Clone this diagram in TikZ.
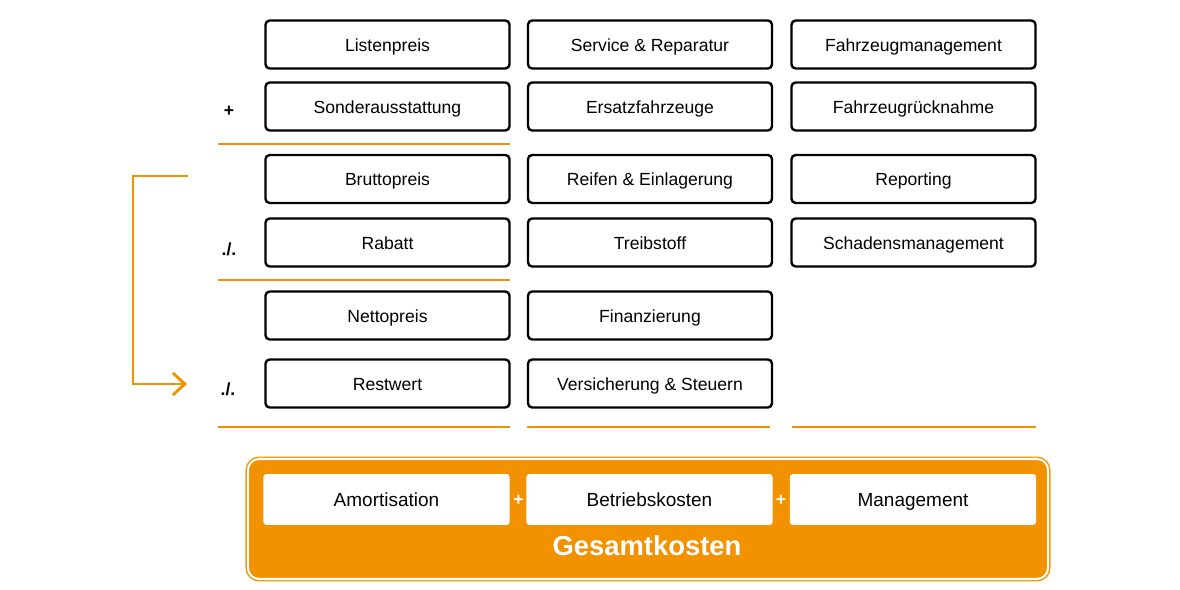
\documentclass[tikz,border=0pt]{standalone}
\usepackage{fontspec}
\setmainfont{Liberation Sans}
\usepackage{tikz}
\usetikzlibrary{arrows.meta,positioning,calc}
\definecolor{gkorange}{RGB}{243,146,0}
\tikzset{
  item/.style={draw, line width=1.7pt, rounded corners=3pt, align=center, minimum width=6.1cm, minimum height=1.2cm, text height=2.2ex, text depth=.4ex, font=\fontsize{12.5}{14}\selectfont},
  part/.style={fill=white, rounded corners=2pt, align=center, minimum width=6.15cm, minimum height=1.27cm, text height=2.2ex, text depth=.4ex, font=\fontsize{13.5}{16}\selectfont},
  total/.style={draw=gkorange, fill=gkorange, double=white, double distance=1.5pt, line width=1pt, rounded corners=8pt, minimum width=20cm, minimum height=3.0cm},
  op/.style={font=\bfseries\fontsize{12.5}{14}\selectfont},
  sum/.style={gkorange, line width=2pt},
  carry/.style={-{Straight Barb[length=3mm,width=5.5mm]}, gkorange, line width=2pt}
}
\begin{document}
\begin{tikzpicture}[x=0.025cm,y=-0.025cm]
    \useasboundingbox (0,0) rectangle (1180,590);
    % Amortisation
    \node[item] (listen) at (387.5,44.5) {Listenpreis};
    \node[item] (sonder) at (387.5,106.5) {Sonderausstattung};
    \node[item] (brutto) at (387.5,179) {Bruttopreis};
    \node[item] (rabatt) at (387.5,242.5) {Rabatt};
    \node[item] (netto) at (387.5,315.5) {Nettopreis};
    \node[item] (rest) at (387.5,383.5) {Restwert};
    \node[op] (plus1) at (229,111) {+};
    \node[op] (minus1) at (229,249) {./.};
    \node[op] (minus2) at (228,389) {./.};
    \draw[sum] (218,144) -- (510,144);
    \draw[sum] (218,280) -- (510,280);
    \draw[sum] (218,427) -- (510,427);
    \coordinate (carryS) at (188,176);
    \coordinate (carryE) at (187,384);
    \draw[carry] (carryS) -- (133,176) |- (carryE);

    % Betriebskosten
    \node[item] (service) at (650,44.5) {Service \& Reparatur};
    \node[item] (ersatz) at (650,106.5) {Ersatzfahrzeuge};
    \node[item] (reifen) at (650,179) {Reifen \& Einlagerung};
    \node[item] (treib) at (650,242.5) {Treibstoff};
    \node[item] (finanz) at (650,315.5) {Finanzierung};
    \node[item] (versich) at (650,383.5) {Versicherung \& Steuern};
    \draw[sum] (527,427) -- (770,427);

    % Management
    \node[item] (fzmgmt) at (913.5,44.5) {Fahrzeugmanagement};
    \node[item] (rueck) at (913.5,106.5) {Fahrzeugrücknahme};
    \node[item] (report) at (913.5,179) {Reporting};
    \node[item] (schaden) at (913.5,242.5) {Schadensmanagement};
    \draw[sum] (792,427) -- (1036,427);

    % Gesamtkosten
    \node[total] (gesamt) at (648,519) {};
    \node[part] (amort) at (386.5,499.5) {Amortisation};
    \node[part] (betrieb) at (649.5,499.5) {Betriebskosten};
    \node[part] (mgmt) at (913,499.5) {Management};
    \node[op, text=white] (plus2) at (518.5,500) {+};
    \node[op, text=white] (plus3) at (781,500) {+};
    \node[text=white, font=\bfseries\fontsize{19.5}{22}\selectfont] (gesamtlbl) at (647,546) {Gesamtkosten};
  \end{tikzpicture}
\end{document}
